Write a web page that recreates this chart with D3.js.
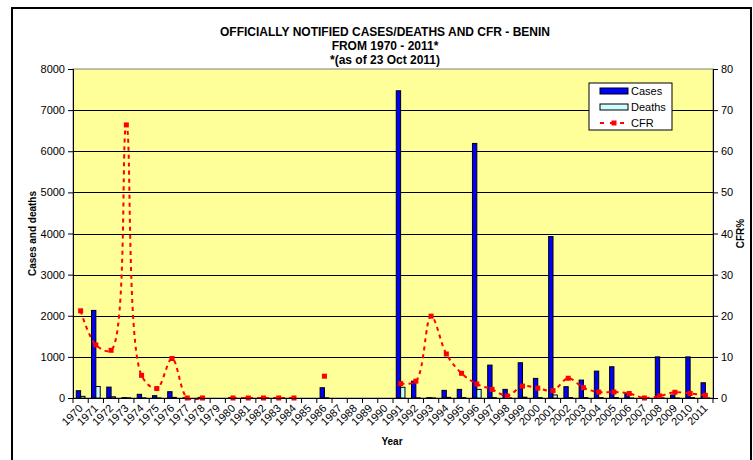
<!DOCTYPE html>
<html>
<head>
<meta charset="utf-8">
<script src="https://cdn.jsdelivr.net/npm/d3@7"></script>
<style>
  body { margin: 0; background: #fff; }
  svg { font-family: "Liberation Sans", Arial, sans-serif; }
</style>
</head>
<body>
<svg width="753" height="460"></svg>
<script>
// data
var years = d3.range(1970, 2012).map(String);

var cases = [177, 2130, 265, 10, 90, 57, 153, 5, 15, 0, 5, 5, 3, 3, 2, 0, 250, 0, 0, 0, 0,
	7470, 410, 10, 186, 210, 6190, 800, 210, 857, 477, 3927, 275, 436, 654, 760, 113, 5, 1000, 73, 1000, 371];

var deaths = [40, 280, 30, 5, 5, 1, 15, 0, 0, 0, 0, 0, 0, 0, 0, 0, 5, 0, 0, 0, 0,
	260, 5, 2, 15, 10, 210, 10, 3, 20, 10, 73, 10, 10, 10, 10, 1, 0, 5, 1, 10, 2];

var cfr = [21.2, 12.9, 11.6, 66.4, 5.5, 2.3, 9.6, 0, 0, null, 0, 0, 0, 0, 0, null, 5.3, null, null, null, null,
	3.5, 4.1, 19.9, 10.7, 6.0, 3.4, 2.1, 0.5, 2.9, 2.4, 1.8, 4.8, 2.5, 1.45, 1.45, 1.1, 0, 0.5, 1.4, 1.1, 0.65];

var leftTicks = [0, 1000, 2000, 3000, 4000, 5000, 6000, 7000, 8000];
var rightTicks = [0, 10, 20, 30, 40, 50, 60, 70, 80];
var titleLines = ["OFFICIALLY NOTIFIED CASES/DEATHS AND CFR - BENIN", "FROM 1970 - 2011*", "*(as of 23 Oct 2011)"];

var svg = d3.select('svg');

var pLeft = 73, pRight = 713, pTop = 69, pBottom = 398;

var x = d3.scaleBand().domain(years).range([pLeft, pRight]).padding(0);
var bw = x.bandwidth() * 2 / 3.5 / 2;
var y = d3.scaleLinear().domain([0, 8000]).range([pBottom, pTop]);
var y2 = d3.scaleLinear().domain([0, 80]).range([pBottom, pTop]);

// outer border
svg.append('rect')
	.attr('x', 12).attr('y', 8)
	.attr('width', 739).attr('height', 470)
	.attr('fill', '#fff')
	.attr('stroke', '#000')
	.attr('stroke-width', 2);

// plot area
svg.append('rect')
	.attr('x', pLeft).attr('y', pTop)
	.attr('width', pRight - pLeft).attr('height', pBottom - pTop)
	.attr('fill', '#ffff99')
	.attr('stroke', '#808080');

// gridlines
svg.append('g')
	.selectAll('line')
	.data(leftTicks.slice(1, -1))
	.enter()
	.append('line')
	.attr('x1', pLeft).attr('x2', pRight)
	.attr('y1', function(d){ return Math.round(y(d)) + 0.5 })
	.attr('y2', function(d){ return Math.round(y(d)) + 0.5 })
	.attr('stroke', '#000')
	.attr('stroke-width', 1);

// bars
svg.append('g')
	.selectAll('rect')
	.data(years.map(function(yr, i){ return {yr: yr, v: cases[i]} }).filter(function(d){ return d.v > 0 }))
	.enter()
	.append('rect')
	.attr('x', function(d){ return x(d.yr) + x.bandwidth() / 2 - bw })
	.attr('y', function(d){ return y(d.v) })
	.attr('width', bw)
	.attr('height', function(d){ return pBottom - y(d.v) })
	.attr('fill', '#0000ff')
	.attr('stroke', '#000')
	.attr('stroke-width', 1);

svg.append('g')
	.selectAll('rect')
	.data(years.map(function(yr, i){ return {yr: yr, v: deaths[i]} }).filter(function(d){ return d.v > 0 }))
	.enter()
	.append('rect')
	.attr('x', function(d){ return x(d.yr) + x.bandwidth() / 2 })
	.attr('y', function(d){ return y(d.v) })
	.attr('width', bw)
	.attr('height', function(d){ return pBottom - y(d.v) })
	.attr('fill', '#ccffff')
	.attr('stroke', '#000')
	.attr('stroke-width', 1);

// CFR line (smoothed)
var line = d3.line()
	.defined(function(d){ return d != null })
	.x(function(d, i){ return x(years[i]) + x.bandwidth() / 2 })
	.y(function(d){ return y2(d) })
	.curve(d3.curveCatmullRom);

svg.append('path')
	.datum(cfr)
	.attr('d', line)
	.attr('fill', 'none')
	.attr('stroke', '#ff0000')
	.attr('stroke-width', 2)
	.attr('stroke-dasharray', '4,4');

svg.append('g')
	.selectAll('rect')
	.data(years.map(function(yr, i){ return {yr: yr, v: cfr[i]} }).filter(function(d){ return d.v != null }))
	.enter()
	.append('rect')
	.attr('x', function(d){ return x(d.yr) + x.bandwidth() / 2 - 2.5 })
	.attr('y', function(d){ return y2(d.v) - 2.5 })
	.attr('width', 5).attr('height', 5)
	.attr('fill', '#ff0000');

// axes
var yAxis = d3.axisLeft(y).tickValues(leftTicks).tickFormat(d3.format('d')).tickSize(5).tickPadding(3);
svg.append('g')
	.attr('transform', 'translate(' + pLeft + ',0)')
	.call(yAxis)
	.selectAll('text').attr('font-size', 11).attr('font-family', null);

var yAxis2 = d3.axisRight(y2).tickValues(rightTicks).tickSize(5).tickPadding(3);
svg.append('g')
	.attr('transform', 'translate(' + pRight + ',0)')
	.call(yAxis2)
	.selectAll('text').attr('font-size', 11).attr('font-family', null);

svg.append('g')
	.attr('transform', 'translate(0,' + pBottom + ')')
	.call(d3.axisBottom(x).tickSize(0).tickFormat(''));

svg.append('g')
	.selectAll('line')
	.data(years.concat(['end']))
	.enter()
	.append('line')
	.attr('x1', function(d, i){ return pLeft + i * x.bandwidth() })
	.attr('x2', function(d, i){ return pLeft + i * x.bandwidth() })
	.attr('y1', pBottom).attr('y2', pBottom + 5)
	.attr('stroke', '#000');

svg.append('g')
	.selectAll('text')
	.data(years)
	.enter()
	.append('text')
	.attr('transform', function(d){ return 'translate(' + (x(d) + x.bandwidth() / 2 + 3) + ',' + (pBottom + 11) + ') rotate(-45)' })
	.attr('text-anchor', 'end')
	.attr('font-size', 11)
	.text(function(d){ return d });

// titles
svg.append('g')
	.selectAll('text')
	.data(titleLines)
	.enter()
	.append('text')
	.attr('x', 385)
	.attr('y', function(d, i){ return 36 + i * 14 })
	.attr('text-anchor', 'middle')
	.attr('font-size', 12)
	.attr('font-weight', 'bold')
	.text(function(d){ return d });

svg.append('text')
	.attr('transform', 'translate(36,' + ((pTop + pBottom) / 2) + ') rotate(-90)')
	.attr('text-anchor', 'middle')
	.attr('font-size', 10)
	.attr('font-weight', 'bold')
	.text('Cases and deaths');

svg.append('text')
	.attr('transform', 'translate(744,' + ((pTop + pBottom) / 2) + ') rotate(-90)')
	.attr('text-anchor', 'middle')
	.attr('font-size', 10)
	.attr('font-weight', 'bold')
	.text('CFR%');

svg.append('text')
	.attr('x', 392).attr('y', 445)
	.attr('text-anchor', 'middle')
	.attr('font-size', 10)
	.attr('font-weight', 'bold')
	.text('Year');

// legend
var lg = svg.append('g').attr('transform', 'translate(589,83)');
lg.append('rect').attr('width', 83).attr('height', 47).attr('fill', '#fff').attr('stroke', '#000');
lg.append('rect').attr('x', 11).attr('y', 5).attr('width', 28).attr('height', 6).attr('fill', '#0000ff').attr('stroke', '#000');
lg.append('rect').attr('x', 11).attr('y', 21).attr('width', 28).attr('height', 6).attr('fill', '#ccffff').attr('stroke', '#000');
lg.append('line').attr('x1', 11).attr('x2', 39).attr('y1', 40).attr('y2', 40)
	.attr('stroke', '#ff0000').attr('stroke-width', 2).attr('stroke-dasharray', '4,6');
lg.append('rect').attr('x', 22.5).attr('y', 37.5).attr('width', 5).attr('height', 5).attr('fill', '#ff0000');
lg.selectAll('text.lab')
	.data(['Cases', 'Deaths', 'CFR'])
	.enter()
	.append('text')
	.attr('x', 42)
	.attr('y', function(d, i){ return 12 + i * 16 })
	.attr('font-size', 11)
	.text(function(d){ return d });
</script>
</body>
</html>
